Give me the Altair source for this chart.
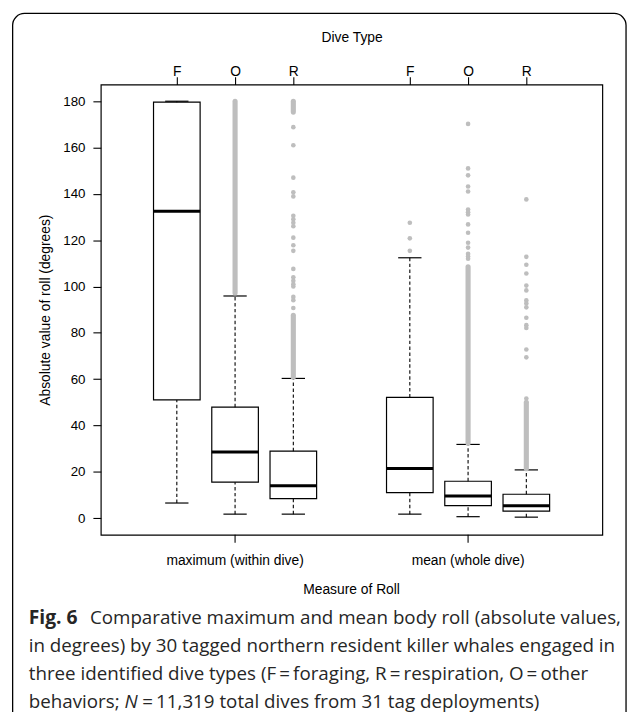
import altair as alt
import pandas as pd

# ---------------- data ----------------
measures = ["maximum (within dive)", "mean (whole dive)"]
dive_types = ["F", "O", "R"]

# five-number summaries; order: (max,F) (max,O) (max,R) (mean,F) (mean,O) (mean,R)
box_measure = [0, 0, 0, 1, 1, 1]
box_type = [0, 1, 2, 0, 1, 2]
whisker_low = [6.5, 1.7, 1.7, 1.7, 0.6, 0.4]
q1 = [51.0, 15.5, 8.4, 11.0, 5.4, 3.0]
median = [132.5, 28.5, 14.0, 21.4, 9.5, 5.3]
q3 = [179.6, 47.9, 28.9, 52.1, 15.9, 10.3]
whisker_high = [180.0, 95.9, 60.3, 112.4, 31.8, 20.8]

# isolated outliers
outliers_max_R = [168.8, 161.0, 147.0, 140.7, 138.9, 130.5, 129.0, 127.5, 126.0,
                  121.1, 117.8, 115.4, 107.6, 104.0, 102.5, 101.0, 100.0, 95.5,
                  94.1, 90.7]
outliers_mean_F = [127.5, 120.8, 115.4]
outliers_mean_O = [170.2, 151.0, 148.0, 143.2, 141.0, 133.2, 132.1, 131.1, 126.8,
                   123.2, 118.9, 116.8, 114.1, 113.0, 112.0]
outliers_mean_R = [137.6, 112.8, 109.4, 105.6, 100.4, 98.3, 94.0, 92.7, 91.0,
                   86.5, 83.3, 82.1, 72.8, 69.4, 51.6]

# saturated runs of overlapping outliers (low, high)
dense_max_O = [(97.2, 180.0)]
dense_max_R = [(60.8, 87.6), (175.3, 180.0)]
dense_mean_O = [(32.3, 108.5)]
dense_mean_R = [(21.3, 50.0)]

y_ticks = [0, 20, 40, 60, 80, 100, 120, 140, 160, 180]

caption_bold = "Fig. 6"
caption_line1 = "Comparative maximum and mean body roll (absolute values,"
caption_line2 = "in degrees) by 30 tagged northern resident killer whales engaged in"
caption_line3 = "three identified dive types (F\u2009=\u2009foraging, R\u2009=\u2009respiration, O\u2009=\u2009other"
caption_line4a = "behaviors;"
caption_line4n = "N"
caption_line4b = "=\u200911,319 total dives from 31 tag deployments)"

# ---------------- tables ----------------
def slot(m, t):
    return m * 4 + t + 1

box_df = pd.DataFrame({
    "measure": [measures[m] for m in box_measure],
    "type": [dive_types[t] for t in box_type],
    "pos": [slot(m, t) for m, t in zip(box_measure, box_type)],
    "low": whisker_low, "q1": q1, "med": median, "q3": q3, "high": whisker_high,
})

measure_df = pd.DataFrame({"measure": measures,
                           "pos": [slot(m, 1) for m in range(len(measures))]})

pts = []
for (m, t), vals in {(0, 2): outliers_max_R, (1, 0): outliers_mean_F,
                     (1, 1): outliers_mean_O, (1, 2): outliers_mean_R}.items():
    for v in vals:
        pts.append({"pos": slot(m, t), "value": v})
pts_df = pd.DataFrame(pts)

bands = []
for (m, t), runs in {(0, 1): dense_max_O, (0, 2): dense_max_R,
                     (1, 1): dense_mean_O, (1, 2): dense_mean_R}.items():
    for lo, hi in runs:
        bands.append({"pos": slot(m, t), "lo": lo, "hi": hi})
bands_df = pd.DataFrame(bands)

# ---------------- chart ----------------
W, H = 508, 456
FONT = "Liberation Sans"
xs = alt.Scale(domain=[-0.305, 8.305], nice=False, zero=False)
ys = alt.Scale(domain=[-7.2, 187.2], nice=False, zero=False)
GRAY = "#BEBEBE"

top_labels = [""] + dive_types + [""] + dive_types
top_expr = "[" + ",".join("'%s'" % s for s in top_labels) + "][datum.value]"

base = alt.Chart(box_df).transform_calculate(
    xl="datum.pos - 0.4", xr="datum.pos + 0.4",
    cl="datum.pos - 0.2", cr="datum.pos + 0.2")

boxes = base.mark_rect(fill="white", stroke="black", strokeWidth=1.2).encode(
    x=alt.X("xl:Q", scale=xs, axis=alt.Axis(
        orient="top", values=[1, 2, 3, 5, 6, 7], labelExpr=top_expr,
        title="Dive Type", titleX=W / 2, titleY=-44, titleAlign="center",
        titleBaseline="alphabetic", labelBaseline="alphabetic", labelPadding=1,
        labelAngle=0)),
    x2="xr:Q",
    y=alt.Y("q1:Q", scale=ys, axis=alt.Axis(
        orient="left", values=y_ticks, title="Absolute value of roll (degrees)",
        labelPadding=8, labelFontSize=13.5, titleX=-52, titleY=H / 2,
        titleAlign="center", titleBaseline="alphabetic", labelAngle=0)),
    y2="q3:Q")

whisk_up = base.mark_rule(color="black", strokeWidth=1.1, strokeDash=[3.5, 2.5]).encode(
    x=alt.X("pos:Q", scale=xs), y=alt.Y("q3:Q", scale=ys), y2="high:Q")
whisk_dn = base.mark_rule(color="black", strokeWidth=1.1, strokeDash=[3.5, 2.5]).encode(
    x=alt.X("pos:Q", scale=xs), y=alt.Y("low:Q", scale=ys), y2="q1:Q")
meds = base.mark_rule(color="black", strokeWidth=3).encode(
    x=alt.X("xl:Q", scale=xs), x2="xr:Q", y=alt.Y("med:Q", scale=ys))
cap_hi = base.mark_rule(color="black", strokeWidth=1.2).encode(
    x=alt.X("cl:Q", scale=xs), x2="cr:Q", y=alt.Y("high:Q", scale=ys))
cap_lo = base.mark_rule(color="black", strokeWidth=1.2).encode(
    x=alt.X("cl:Q", scale=xs), x2="cr:Q", y=alt.Y("low:Q", scale=ys))

band_layer = alt.Chart(bands_df).mark_rule(color=GRAY, strokeWidth=5.2, strokeCap="round").encode(
    x=alt.X("pos:Q", scale=xs), y=alt.Y("lo:Q", scale=ys), y2="hi:Q")
pt_layer = alt.Chart(pts_df).mark_circle(color=GRAY, size=22, opacity=1).encode(
    x=alt.X("pos:Q", scale=xs), y=alt.Y("value:Q", scale=ys))

# bottom axis (one tick per measure) drawn from the measure table
bottom_ticks = alt.Chart(measure_df).mark_rule(color="black", strokeWidth=1.1).encode(
    x=alt.X("pos:Q", scale=xs), y=alt.value(H), y2=alt.value(H + 8))
bottom_labels = alt.Chart(measure_df).mark_text(
    font=FONT, fontSize=14, baseline="alphabetic", align="center", color="black").encode(
    x=alt.X("pos:Q", scale=xs), y=alt.value(H + 31), text="measure:N")
bottom_title = alt.Chart(pd.DataFrame({"t": ["Measure of Roll"]})).mark_text(
    font=FONT, fontSize=14, baseline="alphabetic", align="center", color="black").encode(
    x=alt.value(W / 2), y=alt.value(H + 60), text="t:N")

one = pd.DataFrame({"k": [0]})
border = alt.Chart(one).mark_rect(
    cornerRadius=12, fillOpacity=0, stroke="black", strokeWidth=1.3).encode(
    x=alt.value(12.7 - 102), x2=alt.value(634 - 102),
    y=alt.value(9 - 81), y2=alt.value(740 - 81))

def cap_text(txt, x, y, weight="normal", style="normal", size=19):
    return alt.Chart(pd.DataFrame({"t": [txt]})).mark_text(
        align="left", baseline="alphabetic", font="Open Sans", fontSize=size,
        fontWeight=weight, fontStyle=style, color="#262626").encode(
        text="t:N", x=alt.value(x - 102), y=alt.value(y - 81))

caption = [
    cap_text(caption_bold, 29, 627.5, weight="bold", size=19.5),
    cap_text(caption_line1, 91, 627.5),
    cap_text(caption_line2, 29, 656),
    cap_text(caption_line3, 29, 684.5),
    cap_text(caption_line4a, 29, 712.5),
    cap_text(caption_line4n, 126, 712.5, style="italic"),
    cap_text(caption_line4b, 144, 712.5),
]

chart = alt.layer(
    boxes, whisk_up, whisk_dn, meds, cap_hi, cap_lo, band_layer, pt_layer,
    bottom_ticks, bottom_labels, bottom_title, border, *caption
).properties(
    width=W, height=H,
    padding={"left": 94, "top": 73, "right": 27, "bottom": 175},
    autosize=alt.AutoSizeParams(type="none"),
).configure_view(stroke="black", strokeWidth=1.2).configure_axis(
    domain=False, grid=False, tickColor="black", tickWidth=1.1, tickSize=8,
    labelColor="black", titleColor="black", labelFont=FONT, titleFont=FONT,
    labelFontSize=14, titleFontSize=14, titleFontWeight="normal")

chart.save("out.html", embed_options={"renderer": "svg", "actions": False})
